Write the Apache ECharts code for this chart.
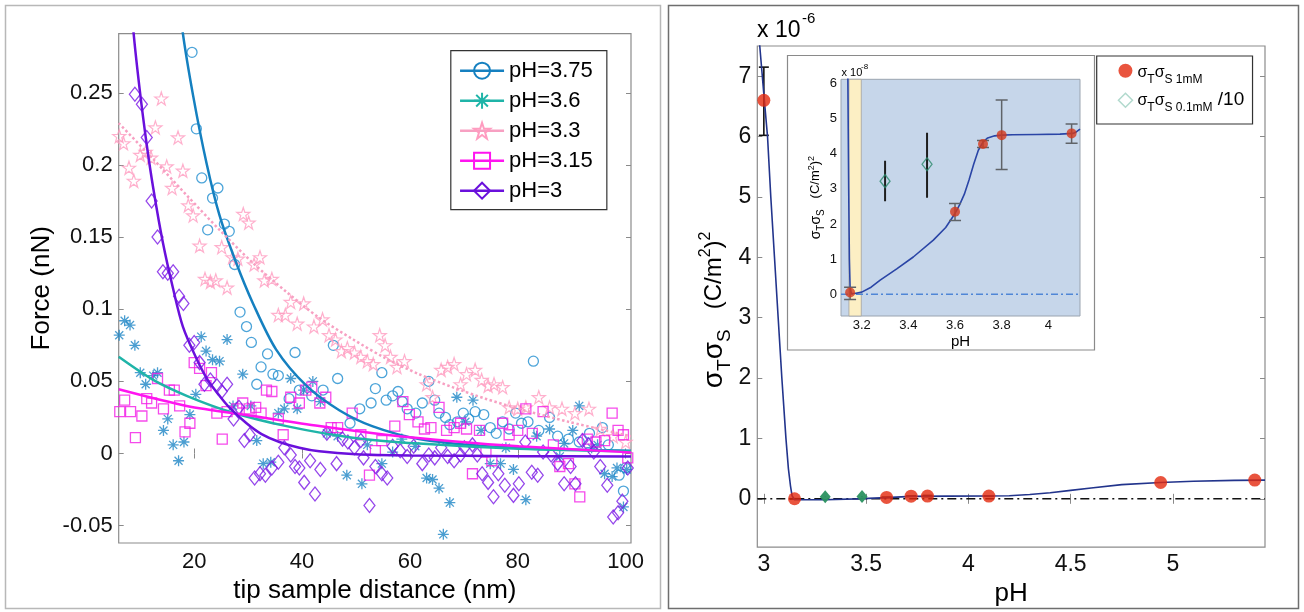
<!DOCTYPE html>
<html>
<head>
<meta charset="utf-8">
<script src="https://cdn.jsdelivr.net/npm/echarts@6/dist/echarts.min.js"></script>
<style>html,body{margin:0;padding:0;background:#fff}#c{width:1304px;height:612px}</style>
</head>
<body>
<div id="c"></div>
<script>
const FONT = 'Liberation Sans, Arial, Helvetica, sans-serif';

// ---------------- Left panel: Force vs tip-sample distance ----------------
const xTicksL = [20, 40, 60, 80, 100];
const yTicksL = [-0.05, 0, 0.05, 0.1, 0.15, 0.2, 0.25];

// pH=3.75 (circles)
const ph375X = [19.6,20.4,21.4,22.5,23.4,24.4,25.6,26.5,27.5,28.5,29.7,30.6,31.6,32.4,33.6,34.6,35.6,37.6,38.7,39.5,41.8,43.9,45.8,46.6,48.9,50.7,52.8,53.6,54.8,55.6,56.8,57.8,58.6,59.5,61.1,62.3,63.5,64.6,65.4,66.6,67.4,68.8,69.9,70.9,72.1,73.7,74.9,76.0,77.2,78.4,79.6,80.7,81.9,82.9,83.9,85.9,87.4,89.4,91.4,93.3,95.7,96.8,98.8,99.6,100];
const ph375Y = [0.278,0.225,0.191,0.155,0.177,0.184,0.159,0.154,0.131,0.098,0.088,0.077,0.048,0.060,0.069,0.055,0.054,0.038,0.070,0.044,0.040,0.044,0.075,0.052,0.021,0.031,0.035,0.045,0.056,0.037,0.040,0.043,0.036,0.031,0.028,0.035,0.050,0.037,0.028,0.025,0.020,0.022,0.028,0.024,0.029,0.027,0.018,0.014,0.022,0.017,0.028,0.021,0.022,0.064,0.016,0.025,0.012,0.010,0.008,0.014,0.018,0.006,-0.015,-0.026,-0.010];
// pH=3.6 (asterisks)
const ph36X = [6.1,7.1,8.1,9.0,10.0,11.0,12.4,13.2,14.3,15.1,16.1,17.1,18.1,19.2,20.3,21.3,22.2,23.4,24.7,26.1,27.2,29.0,30.5,31.6,32.8,34.2,35.6,36.7,37.9,39.1,40.3,42.0,43.4,44.6,46.6,48.3,51.1,52.1,54.8,56.8,58.5,61.0,63.1,64.2,65.4,66.2,67.4,68.7,70.3,71.7,73.2,74.9,76.8,77.8,79.2,81.5,83.5,85.9,87.8,88.6,90.2,91.4,93.7,94.8,96.1,97.5,98.4,99.6,100.2];
const ph36Y = [0.082,0.092,0.089,0.075,0.056,0.048,0.054,0.056,0.016,0.024,0.006,-0.005,0.008,0.027,0.041,0.081,0.071,0.065,0.064,0.079,0.033,0.055,0.033,0.009,-0.007,-0.006,0.028,0.031,0.052,0.031,0.044,0.050,0.036,0.014,0.012,-0.015,-0.021,0.006,-0.007,0.001,0.010,0.005,-0.017,-0.018,-0.024,-0.056,-0.034,0.039,0.022,0.037,0.016,-0.007,-0.007,0.004,-0.011,-0.032,0.012,0.017,-0.002,0.007,0.016,0.033,0.004,0.006,-0.014,-0.016,-0.010,-0.037,-0.011];
// pH=3.3 (stars)
const ph33X = [6.1,6.9,7.9,8.8,10.0,11.0,12.0,12.8,13.9,14.9,15.9,17.0,17.9,18.9,19.8,21.0,22.0,23.0,24.0,25.1,26.1,27.1,28.1,29.1,30.1,31.1,32.2,33.0,34.4,35.6,36.9,37.9,39.1,40.3,42.2,43.8,45.0,46.2,47.3,48.4,49.7,50.9,52.1,53.2,54.4,55.4,56.4,57.6,59.0,63.1,64.2,65.8,67.0,68.2,69.4,70.5,72.1,73.3,74.5,75.6,77.2,78.4,80.0,81.5,83.9,85.9,88.2,90.6,93.2,95.3,97.7,100];
const ph33Y = [0.220,0.215,0.198,0.189,0.207,0.209,0.205,0.226,0.246,0.199,0.184,0.219,0.196,0.172,0.165,0.144,0.121,0.119,0.120,0.143,0.115,0.136,0.135,0.166,0.160,0.131,0.136,0.120,0.121,0.096,0.096,0.105,0.090,0.104,0.088,0.093,0.082,0.079,0.071,0.073,0.070,0.067,0.064,0.062,0.082,0.075,0.067,0.060,0.064,0.048,0.039,0.058,0.060,0.062,0.048,0.055,0.058,0.051,0.047,0.048,0.046,0.032,0.031,0.032,0.039,0.032,0.031,0.028,0.031,0.017,0.012,0.008];
// pH=3.15 (squares)
const ph315X = [6.2,7.1,8.2,9.1,10.3,11.2,12.1,13.2,14.3,15.4,16.3,17.3,18.3,19.2,20.0,21.0,22.2,23.2,24.2,25.2,26.1,27.9,29.0,30.2,31.4,32.4,33.4,34.4,35.6,36.5,37.9,39.5,40.7,41.8,43.3,44.4,45.4,46.6,49.3,50.9,52.5,53.6,54.8,57.2,58.7,59.9,61.5,62.7,63.9,65.4,66.8,68.2,69.4,70.5,71.6,72.9,74.1,75.2,77.2,78.4,80.0,81.5,82.7,84.7,86.6,87.8,89.4,90.6,91.5,92.9,94.5,96.1,97.5,98.6,99.6,100.4];
const ph315Y = [0.029,0.037,0.029,0.011,0.026,0.038,0.035,0.052,0.031,0.044,0.044,0.033,0.015,0.021,0.063,0.059,0.047,0.056,0.028,0.010,0.029,0.031,0.035,0.031,0.032,0.028,0.044,0.043,0.024,0.013,0.039,0.035,0.044,0.046,0.035,0.039,0.018,0.018,0.028,0.013,-0.015,0.002,0.009,0.019,0.036,0.027,0.022,0.017,0.018,0.032,0.016,0.018,0.021,0.017,-0.014,0.016,0.001,-0.005,0.021,0.013,0.016,0.031,0.014,0.029,0.006,-0.009,-0.007,-0.021,-0.030,0.010,0.008,0.009,0.028,0.016,0.013,-0.003];
// pH=3 (diamonds)
const ph30X = [9.0,10.3,11.2,12.1,13.2,14.2,15.1,16.1,17.2,18.0,19.1,20.0,21.0,21.9,23.0,24.2,25.1,26.1,27.3,28.3,29.3,30.3,31.2,32.2,33.2,34.4,35.6,36.7,37.9,38.7,39.5,40.4,41.5,42.4,43.4,44.6,46.4,47.5,48.5,49.7,50.9,51.4,52.5,53.6,54.8,55.8,56.8,58.2,59.5,60.7,62.3,63.5,64.6,65.8,67.0,68.2,69.4,70.1,71.6,72.5,73.4,74.5,75.5,76.4,77.6,79.2,80.2,81.4,82.6,83.7,84.7,86.2,87.4,88.6,89.8,90.7,92.0,93.1,94.1,95.3,96.6,97.7,98.6,99.4,100.4];
const ph30Y = [0.249,0.242,0.219,0.175,0.150,0.126,0.125,0.126,0.109,0.104,0.075,0.077,0.063,0.048,0.051,0.047,0.043,0.048,0.024,0.032,0.009,0.013,-0.017,-0.014,-0.015,-0.010,-0.006,0.004,-0.001,-0.009,-0.010,-0.020,-0.005,-0.028,-0.011,0.014,-0.007,0.010,0.008,0.004,0.009,-0.003,-0.036,-0.009,-0.014,-0.017,0.005,0.002,-0.002,0.005,-0.007,-0.001,-0.003,0.004,-0.002,-0.005,-0.001,0.004,0.006,-0.001,-0.014,-0.020,-0.030,-0.014,-0.022,-0.029,-0.021,0.008,-0.013,-0.015,0.001,-0.001,-0.007,-0.021,-0.009,-0.021,0.009,0.006,0.001,-0.009,-0.022,-0.044,-0.041,-0.033,-0.010];

// fitted curves
const fit375X = [17.3,17.8,19.8,22.3,24.7,27.8,30.9,35.2,40.8,46.9,53,61.7,74,87,101];
const fit375Y = [0.32,0.294,0.248,0.201,0.165,0.132,0.104,0.072,0.047,0.030,0.019,0.010,0.005,0.003,0.002];
const fit36X = [6,12.4,18.6,26.6,37.1,49.4,61.7,80.2,101];
const fit36Y = [0.067,0.051,0.040,0.029,0.019,0.011,0.0069,0.0033,0.0015];
const fit33X = [6,12.4,18.6,24.7,30.9,37.1,43.2,49.5,55.5,61.7,67.9,74,80.2,89.4,101];
const fit33Y = [0.229,0.204,0.179,0.155,0.132,0.112,0.094,0.079,0.066,0.055,0.046,0.038,0.031,0.022,0.012];
const fit315X = [6,18.6,30.9,43.2,55.5,67.9,80.2,101];
const fit315Y = [0.0445,0.033,0.026,0.019,0.013,0.0085,0.005,0.0008];
const fit30X = [8.3,8.7,9.9,11.2,12.4,14.2,16.1,17.9,20.4,22.5,24.7,26.5,29.7,32.5,35.8,39.5,43.2,50,60,80,101];
const fit30Y = [0.32,0.294,0.252,0.214,0.184,0.146,0.114,0.088,0.066,0.051,0.040,0.032,0.021,0.0135,0.008,0.004,0.0015,-0.0005,-0.0013,-0.0018,-0.002];

// ---------------- Right panel: sigma_T sigma_S vs pH (units 1e-6) ----------------
const xTicksR = [3, 3.5, 4, 4.5, 5];
const yTicksR = [0, 1, 2, 3, 4, 5, 6, 7];
const pH1mM   = [3.0, 3.15, 3.6, 3.72, 3.8, 4.1, 4.94, 5.4];
const val1mM  = [6.6, 0.0005, 0.0235, 0.0428, 0.0453, 0.0458, 0.27, 0.31];
const lo1mM   = [6.02, -0.0015, 0.021, 0.0418, 0.0355, 0.043, null, null];
const hi1mM   = [7.15, 0.002, 0.0258, 0.0438, 0.0553, 0.0485, null, null];
const pH01mM  = [3.3, 3.48];
const val01mM = [0.0322, 0.037];
const lo01mM  = [0.0265, 0.0275];
const hi01mM  = [0.038, 0.046];
const fitMainPH  = [2.975,2.98,3.0,3.018,3.034,3.052,3.07,3.088,3.108,3.12,3.13,3.138,3.15,3.3,3.45,3.6,3.72,3.9,4.1,4.2,4.3,4.4,4.5,4.6,4.75,4.94,5.1,5.3,5.45];
const fitMainVal = [7.9,7.5,6.7,6.0,5.0,4.0,3.0,2.0,1.0,0.5,0.22,0.05,-0.015,-0.015,-0.002,0.02,0.04,0.045,0.046,0.05,0.07,0.1,0.14,0.18,0.235,0.27,0.29,0.305,0.31];

// Inset (units 1e-8)
const xTicksI = [3.2, 3.4, 3.6, 3.8, 4];
const yTicksI = [0, 1, 2, 3, 4, 5, 6];
const insetBandPH = [3.145, 3.198];
const fitInsetPH  = [3.140,3.144,3.147,3.150,3.155,3.17,3.20,3.24,3.279,3.35,3.421,3.507,3.56,3.60,3.62,3.64,3.66,3.68,3.70,3.72,3.74,3.77,3.80,3.848,3.95,4.05,4.105,4.12,4.136];
const fitInsetVal = [6.5,3.0,1.0,0.2,0.03,0.02,0.06,0.2,0.4,0.72,1.06,1.54,1.9,2.3,2.55,2.85,3.25,3.7,4.1,4.33,4.45,4.51,4.53,4.54,4.55,4.56,4.58,4.62,4.7];

// ---------------- helpers ----------------
const zip = (a, b) => a.map((v, i) => [v, b[i]]);
const zip3 = (a, b, c) => a.map((v, i) => [v, b[i], c[i]]).filter(r => r[1] != null && r[2] != null);
const SCALE_6_TO_8 = 100;
const inInset = pH1mM.map((p, i) => i).filter(i => pH1mM[i] > 3.1 && pH1mM[i] <= 4.14);

const N1 = 'σTσS 1mM';
const N2 = 'σTσS 0.1mM /10';

const tickStyle = {color: '#8a8a8a', width: 1};
function axis(gridIndex, min, max, pos, ticks, label, extra) {
  return Object.assign({
    type: 'value', gridIndex, min, max, position: pos,
    axisLine: {show: false},
    splitLine: {show: false},
    axisTick: {show: true, inside: true, length: label ? label.tick || 5 : 5, customValues: ticks, lineStyle: tickStyle},
    axisLabel: label ? {show: true, customValues: ticks, fontSize: label.size, margin: label.margin, color: '#111', fontFamily: FONT}
                     : {show: false}
  }, extra || {});
}
function errorBars(xi, yi, data, color, cap, width, z) {
  return {
    type: 'custom', xAxisIndex: xi, yAxisIndex: yi, silent: true, z: z || 3, clip: true,
    data: data, encode: {x: 0, y: [1, 2]},
    renderItem(params, api) {
      const x = api.value(0), lo = api.value(1), hi = api.value(2);
      const a = api.coord([x, lo]), b = api.coord([x, hi]);
      const ch = [{type: 'line', shape: {x1: a[0], y1: a[1], x2: b[0], y2: b[1]}, style: {stroke: color, lineWidth: width}}];
      if (cap > 0) {
        ch.push({type: 'line', shape: {x1: a[0] - cap / 2, y1: a[1], x2: a[0] + cap / 2, y2: a[1]}, style: {stroke: color, lineWidth: width}});
        ch.push({type: 'line', shape: {x1: b[0] - cap / 2, y1: b[1], x2: b[0] + cap / 2, y2: b[1]}, style: {stroke: color, lineWidth: width}});
      }
      return {type: 'group', children: ch};
    }
  };
}

const STAR = 'path://M50,0L61.8,35.1L98.5,35.1L68.8,57L79.4,91.9L50,70.5L20.6,91.9L31.2,57L1.5,35.1L38.2,35.1Z';
const ASTER = 'path://M0,-10L0,10M-10,0L10,0M-7.3,-7.3L7.3,7.3M-7.3,7.3L7.3,-7.3';

const C375 = '#1f8dcf', C375L = '#1580c0';
const C36P = '#1e86c6', C36L = '#1fb4a8';
const C33 = '#ff9cc0', C33L = '#f7a0c2';
const C315 = '#f21de6', C315L = '#ff14f0';
const C30 = '#7a18e6', C30L = '#6a10dc';

function scat(name, xs, ys, symbol, size, color, bw) {
  return {type: 'scatter', name, xAxisIndex: 0, yAxisIndex: 0, data: zip(xs, ys), symbol, symbolSize: size,
          itemStyle: {color: 'transparent', borderColor: color, borderWidth: bw || 1.3}, silent: true, clip: true, z: 2};
}
function fitLine(name, xs, ys, color, symbol, symColor, type) {
  return {type: 'line', name, xAxisIndex: 0, yAxisIndex: 0, data: zip(xs, ys), showSymbol: false, symbol,
          itemStyle: {color: 'transparent', borderColor: symColor, borderWidth: 1.5},
          lineStyle: {color, width: 2.5, type: type || 'solid'},
          smooth: 0.3, clip: true, silent: true, z: 4};
}

const tok = (size, lh, pad) => ({fontSize: size, lineHeight: lh, padding: [pad, 0, 0, 0], verticalAlign: 'top', fontFamily: FONT, color: '#000'});
const SIGMA_NAME = '{s|σ}{sub|T}{s|σ}{sub|S}{u|   (C/m}{sup|2}{u|)}{sup|2}';

const option = {
  animation: false,
  backgroundColor: '#fff',
  grid: [
    {left: 118.7, top: 33.6, width: 512.3, height: 509.4, show: true, borderColor: '#8c8c8c', borderWidth: 1.2, backgroundColor: 'transparent'},
    {left: 757.3, top: 46, width: 507.7, height: 507, show: true, borderColor: '#8c8c8c', borderWidth: 1.2, backgroundColor: 'transparent'},
    {left: 841, top: 79.3, width: 239, height: 236.7, show: true, borderColor: '#9aa4b0', borderWidth: 1, backgroundColor: '#c6d6ea', z: 1}
  ],
  xAxis: [
    axis(0, 6, 101, 'bottom', xTicksL, {size: 22, margin: 8},
      {name: 'tip sample distance (nm)', nameLocation: 'middle', nameGap: 32, nameTextStyle: {fontSize: 26, color: '#000', fontFamily: FONT}}),
    axis(0, 6, 101, 'top', xTicksL, null),
    axis(1, 2.968, 5.45, 'bottom', xTicksR, {size: 23, margin: 6},
      {name: 'pH', nameLocation: 'middle', nameGap: 31, nameTextStyle: {fontSize: 26, color: '#000', fontFamily: FONT}}),
    axis(1, 2.968, 5.45, 'top', xTicksR, null),
    axis(2, 3.111, 4.136, 'bottom', xTicksI, {size: 13, margin: 3, tick: 3},
      {name: 'pH', nameLocation: 'middle', nameGap: 18, nameTextStyle: {fontSize: 15, color: '#000', fontFamily: FONT}}),
    axis(2, 3.111, 4.136, 'top', xTicksI, null)
  ],
  yAxis: [
    axis(0, -0.062, 0.291, 'left', yTicksL, {size: 22, margin: 6},
      {name: 'Force (nN)', nameLocation: 'middle', nameGap: 64, nameTextStyle: {fontSize: 26, color: '#000', fontFamily: FONT}}),
    axis(0, -0.062, 0.291, 'right', yTicksL, null),
    axis(1, -0.8, 7.5, 'left', yTicksR, {size: 23, margin: 6},
      {name: SIGMA_NAME + '{u|    }', nameLocation: 'middle', nameGap: 22,
       nameTextStyle: {fontFamily: FONT, color: '#000', rich: {s: tok(28, 30, 6), u: tok(24, 26, 8), sub: tok(19, 20, 21), sup: tok(16, 16, 3)}}}),
    axis(1, -0.8, 7.5, 'right', yTicksR, null),
    axis(2, -0.62, 6.12, 'left', yTicksI, {size: 13, margin: 4, tick: 3},
      {name: SIGMA_NAME, nameLocation: 'middle', nameGap: 12,
       nameTextStyle: {fontFamily: FONT, color: '#000', rich: {s: tok(14, 15, 3), u: tok(13, 14, 3.5), sub: tok(10, 10, 10), sup: tok(9, 9, 1)}}}),
    axis(2, -0.62, 6.12, 'right', yTicksI, null)
  ],
  legend: [
    {
      orient: 'vertical', left: 450.8, top: 50.7, padding: [9, 14, 8, 8], itemGap: 8,
      itemWidth: 44, itemHeight: 20, selectedMode: false,
      backgroundColor: '#fff', borderColor: '#333', borderWidth: 1.2,
      textStyle: {fontFamily: FONT, fontSize: 22, color: '#000'},
      lineStyle: {width: 2.5},
      data: [
        {name: 'pH=3.75'},
        {name: 'pH=3.6'},
        {name: 'pH=3.3', lineStyle: {type: 'solid', width: 2.5}},
        {name: 'pH=3.15'},
        {name: 'pH=3'}
      ]
    },
    {
      orient: 'vertical', left: 1096.7, top: 56, padding: [6.8, 8.3, 10.8, 21], itemGap: 4.4,
      itemWidth: 14, itemHeight: 14, selectedMode: false,
      backgroundColor: '#fff', borderColor: '#333', borderWidth: 1.2,
      data: [
        {name: N1},
        {name: N2, itemStyle: {color: 'transparent', borderColor: '#9dd0c0', borderWidth: 1.5}}
      ],
      formatter: n => n === N1 ? '{s|σ}{sub|T}{s|σ}{sub|S 1mM}' : '{s|σ}{sub|T}{s|σ}{sub|S 0.1mM}{big| /10}',
      textStyle: {fontFamily: FONT, color: '#000', rich: {s: tok(16, 16, 2), sub: tok(12, 12, 11), big: tok(19, 20, 0)}}
    }
  ],
  graphic: {elements: [
    {type: 'rect', z: -5, shape: {x: 5.5, y: 5.5, width: 655, height: 603}, style: {fill: 'none', stroke: '#b8b8b8', lineWidth: 1.5}},
    {type: 'rect', z: -5, shape: {x: 668.5, y: 5.5, width: 630, height: 603}, style: {fill: 'none', stroke: '#6e6e6e', lineWidth: 1.5}},
    {type: 'rect', z: -1, shape: {x: 787.5, y: 55.5, width: 307, height: 294.5}, style: {fill: '#fff', stroke: '#8a8a8a', lineWidth: 1.2}},
    {type: 'text', x: 757, y: 31, style: {text: 'x 10', fontSize: 23, fontFamily: FONT, fill: '#000', align: 'left', verticalAlign: 'middle', textAlign: 'left', textVerticalAlign: 'middle'}},
    {type: 'text', x: 802, y: 19, style: {text: '-6', fontSize: 15, fontFamily: FONT, fill: '#000', align: 'left', verticalAlign: 'middle', textAlign: 'left', textVerticalAlign: 'middle'}},
    {type: 'text', x: 841.5, y: 72.5, z: 10, style: {text: 'x 10', fontSize: 11, fontFamily: FONT, fill: '#000', align: 'left', verticalAlign: 'middle', textAlign: 'left', textVerticalAlign: 'middle'}},
    {type: 'text', x: 861, y: 67, z: 10, style: {text: '-8', fontSize: 8, fontFamily: FONT, fill: '#000', align: 'left', verticalAlign: 'middle', textAlign: 'left', textVerticalAlign: 'middle'}}
  ]},
  series: [
    // ---- left panel
    scat('d375', ph375X, ph375Y, 'circle', 10, C375, 1.3),
    scat('d36', ph36X, ph36Y, ASTER, 11, C36P, 1.3),
    scat('d33', ph33X, ph33Y, STAR, 13, C33, 1.2),
    scat('d315', ph315X, ph315Y, 'rect', 10, C315, 1.3),
    scat('d30', ph30X, ph30Y, 'diamond', [11, 14], C30, 1.3),
    fitLine('pH=3.75', fit375X, fit375Y, C375L, 'circle', C375L),
    fitLine('pH=3.6', fit36X, fit36Y, C36L, ASTER, C36L),
    fitLine('pH=3.3', fit33X, fit33Y, C33L, STAR, C33, 'dotted'),
    fitLine('pH=3.15', fit315X, fit315Y, C315L, 'rect', C315L),
    fitLine('pH=3', fit30X, fit30Y, C30L, 'diamond', C30L),
    // ---- right main
    {type: 'line', name: 'zero', xAxisIndex: 2, yAxisIndex: 2, data: [[2.968, 0], [5.45, 0]], showSymbol: false, symbol: 'none',
     lineStyle: {color: '#111', width: 1.5, type: [9, 4, 2, 4]}, silent: true, z: 2},
    {type: 'line', name: 'fitMain', xAxisIndex: 2, yAxisIndex: 2, data: zip(fitMainPH, fitMainVal), showSymbol: false, symbol: 'none',
     lineStyle: {color: '#22348c', width: 1.6}, smooth: false, clip: true, silent: true, z: 3},
    errorBars(2, 2, zip3(pH1mM, lo1mM, hi1mM), '#111', 10, 1.6, 3),
    errorBars(2, 2, zip3(pH01mM, lo01mM, hi01mM), '#111', 0, 1.6, 3),
    {type: 'scatter', name: 'green main', xAxisIndex: 2, yAxisIndex: 2, data: zip(pH01mM, val01mM), symbol: 'diamond', symbolSize: [11, 13],
     itemStyle: {color: '#2a9160', opacity: 0.95}, silent: true, z: 4},
    {type: 'scatter', name: N1, xAxisIndex: 2, yAxisIndex: 2, data: zip(pH1mM, val1mM), symbol: 'circle', symbolSize: 13,
     itemStyle: {color: '#e3290e'}, silent: true, z: 5},
    // ---- inset
    {type: 'line', name: 'zeroInset', xAxisIndex: 4, yAxisIndex: 4, data: [[3.111, 0], [4.136, 0]], showSymbol: false, symbol: 'none',
     lineStyle: {color: '#4f86d6', width: 1.3, type: [7, 3, 2, 3]}, silent: true, z: 3,
     markArea: {silent: true, itemStyle: {color: '#fcefc4', borderColor: '#a2a2a2', borderWidth: 0.8},
                data: [[{xAxis: insetBandPH[0]}, {xAxis: insetBandPH[1]}]]}},
    {type: 'line', name: 'fitInset', xAxisIndex: 4, yAxisIndex: 4, data: zip(fitInsetPH, fitInsetVal), showSymbol: false, symbol: 'none',
     lineStyle: {color: '#2a45a6', width: 1.6}, smooth: false, clip: true, silent: true, z: 4},
    errorBars(4, 4, zip3(inInset.map(i => pH1mM[i]), inInset.map(i => lo1mM[i] * SCALE_6_TO_8), inInset.map(i => hi1mM[i] * SCALE_6_TO_8)), '#5f6368', 12, 1.5, 5),
    errorBars(4, 4, zip3(pH01mM, lo01mM.map(v => v * SCALE_6_TO_8), hi01mM.map(v => v * SCALE_6_TO_8)), '#1e1e1e', 0, 2, 5),
    {type: 'scatter', name: 'red inset', xAxisIndex: 4, yAxisIndex: 4, data: inInset.map(i => [pH1mM[i], val1mM[i] * SCALE_6_TO_8]), symbol: 'circle', symbolSize: 10,
     itemStyle: {color: '#d4381c'}, silent: true, z: 6},
    {type: 'scatter', name: N2, xAxisIndex: 4, yAxisIndex: 4, data: zip(pH01mM, val01mM.map(v => v * SCALE_6_TO_8)), symbol: 'diamond', symbolSize: [10, 13],
     itemStyle: {color: 'transparent', borderColor: '#2a8a6c', borderWidth: 1.3}, silent: true, z: 6}
  ]
};

const chart = echarts.init(document.getElementById('c'), null, {renderer: 'canvas', width: 1304, height: 612});
chart.setOption(option);
</script>
</body>
</html>
